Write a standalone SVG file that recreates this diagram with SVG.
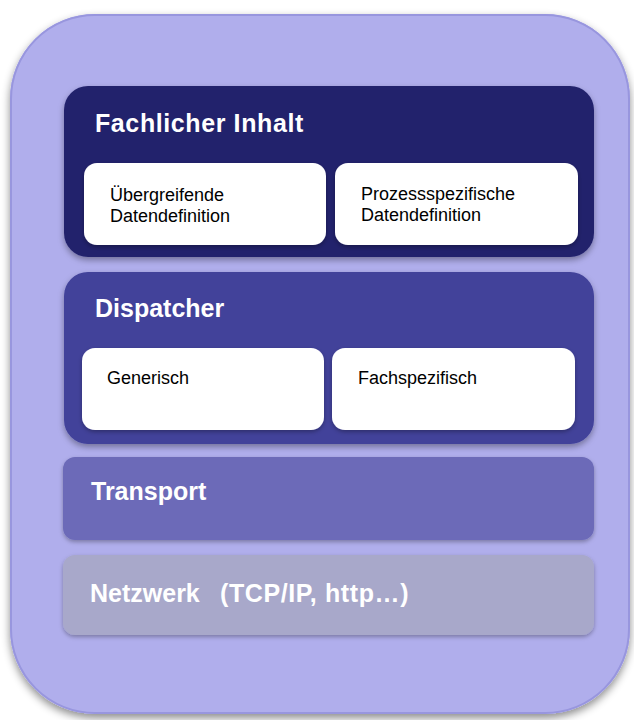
<svg xmlns="http://www.w3.org/2000/svg" width="634" height="720" viewBox="0 0 634 720">
<defs>
<filter id="sh" x="-10%" y="-10%" width="120%" height="130%">
<feDropShadow dx="0" dy="3" stdDeviation="3" flood-color="#000" flood-opacity="0.35"/>
</filter>
<filter id="shs" x="-10%" y="-10%" width="120%" height="130%">
<feDropShadow dx="0" dy="2" stdDeviation="2" flood-color="#000" flood-opacity="0.3"/>
</filter>
<filter id="osh" x="-5%" y="-5%" width="110%" height="110%">
<feDropShadow dx="0" dy="4" stdDeviation="4" flood-color="#000" flood-opacity="0.45"/>
</filter>
</defs>
<style>
.h{font-family:"Liberation Sans",Arial,sans-serif;font-weight:bold;font-size:25px;fill:#fff}
.t{font-family:"Liberation Sans",Arial,sans-serif;font-size:18px;fill:#000}
.w{fill:#fff}
</style>
<g id="outer">
<rect x="10" y="14" width="620" height="700" rx="85" ry="85" fill="#B0AEEC" filter="url(#osh)"/>
<rect x="11" y="15" width="618" height="698" rx="84" ry="84" fill="none" stroke="#9896DE" stroke-width="2"/>
</g>
<g id="fachlicher">
<rect x="64" y="86" width="530" height="171" rx="24" fill="#24236C" filter="url(#sh)"/>
<text class="h" x="95" y="132" letter-spacing="0.6">Fachlicher Inhalt</text>
</g>
<g id="uebergreifend">
<rect x="84" y="163" width="242" height="82" rx="13" class="w" filter="url(#shs)"/>
<text class="t" x="110" y="201">Übergreifende</text>
<text class="t" x="110" y="222">Datendefinition</text>
</g>
<g id="prozess">
<rect x="335" y="163" width="243" height="82" rx="13" class="w" filter="url(#shs)"/>
<text class="t" x="361" y="200">Prozessspezifische</text>
<text class="t" x="361" y="221">Datendefinition</text>
</g>
<g id="dispatcher">
<rect x="64" y="272" width="530" height="172" rx="24" fill="#42429A" filter="url(#sh)"/>
<text class="h" x="95" y="317">Dispatcher</text>
</g>
<g id="generisch">
<rect x="82" y="348" width="242" height="82" rx="13" class="w" filter="url(#shs)"/>
<text class="t" x="107" y="384">Generisch</text>
</g>
<g id="fachspezifisch">
<rect x="332" y="348" width="243" height="82" rx="13" class="w" filter="url(#shs)"/>
<text class="t" x="358" y="384">Fachspezifisch</text>
</g>
<g id="transport">
<rect x="63" y="457" width="531" height="83" rx="12" fill="#6C6BB8" filter="url(#shs)"/>
<text class="h" x="91" y="500">Transport</text>
</g>
<g id="netzwerk">
<rect x="63" y="555" width="531" height="80" rx="12" fill="#A8A8CA" filter="url(#shs)"/>
<text class="h" x="90" y="602" font-size="26">Netzwerk <tspan x="220" letter-spacing="0.6">(TCP/IP, http…)</tspan></text>
</g>
<g id="connectors"/>
</svg>
